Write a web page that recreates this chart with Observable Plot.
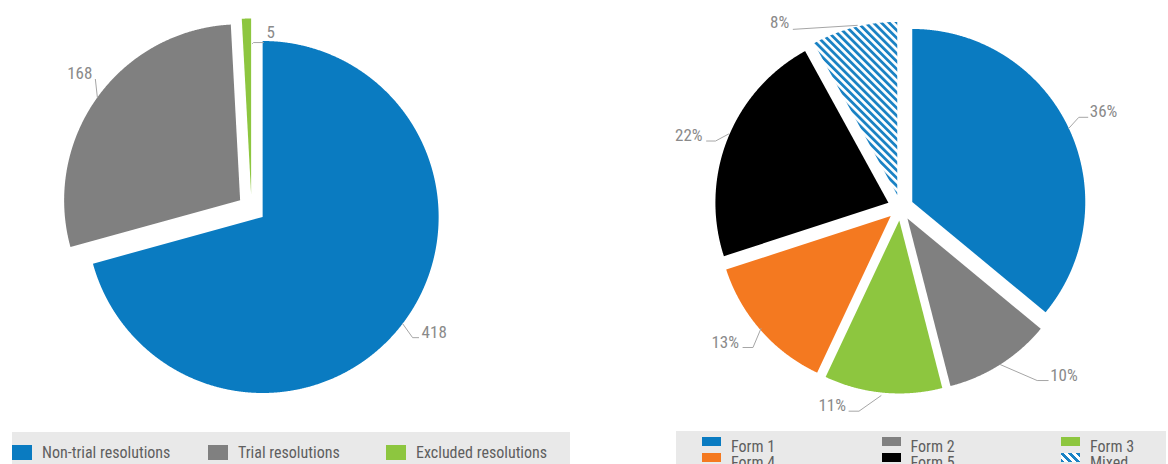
<!DOCTYPE html>
<html><head><meta charset="utf-8">
<script src="https://cdn.jsdelivr.net/npm/d3@7"></script>
<script src="https://cdn.jsdelivr.net/npm/@observablehq/plot@0.6"></script>
<style>
body{margin:0;width:1168px;height:464px;overflow:hidden;background:#fff;position:relative;font-family:"Liberation Sans Narrow","Arial Narrow","Roboto Condensed",sans-serif}
.chart{position:absolute;top:0}
.legend{position:absolute;background:#e9e9e9;overflow:hidden}
.legend .sw{position:absolute}
.legend .tx{position:absolute;font-size:16px;line-height:18px;color:#5f5f5f;white-space:nowrap}
</style></head><body>
<svg width="0" height="0" style="position:absolute"><defs>
<pattern id="hatch" patternUnits="userSpaceOnUse" width="5.5" height="5.5" patternTransform="rotate(-45)">
<rect width="5.5" height="5.5" fill="#ffffff"/><rect width="2.8" height="5.5" fill="#1a82c4"/></pattern>
</defs></svg>
<div id="left" class="chart" style="left:0"></div>
<div id="right" class="chart" style="left:600px"></div>
<div id="legL" class="legend" style="left:12px;top:432px;width:558px;height:32px"></div>
<div id="legR" class="legend" style="left:676px;top:431px;width:490px;height:33px"></div>
<script>
const FONT = '"Liberation Sans Narrow","Arial Narrow","Roboto Condensed",sans-serif';

// ---- data ----
const leftCategories = ["Non-trial resolutions", "Trial resolutions", "Excluded resolutions"];
const leftValues = [418, 168, 5];
const leftLabels = leftValues.map(String);
const leftColors = ["#0a7bc1", "#808080", "#8dc63f"];

const rightCategories = ["Form 1", "Form 2", "Form 3", "Form 4", "Form 5", "Mixed"];
const rightValues = [36, 10, 11, 13, 22, 8];
const rightLabels = rightValues.map(v => v + "%");
const rightColors = ["#0a7bc1", "#808080", "#8dc63f", "#f47920", "#000000", "url(#hatch)"];

// ---- label leader layout (pixel offsets from each slice's outer mid-point) ----
const leftLayout = [
  {pts: [[0, 0], [10, 14], [16, 14]], text: [19, 14], anchor: "start"},
  {pts: [[0, 0], [-2, -18]], text: [-5, -18], anchor: "end"},
  {pts: [[6, 25], [7, 24], [17, 24]], text: [20, 19], anchor: "start"}
];
const rightLayout = [
  {pts: [[0, 0], [10, -11], [19, -11]], text: [21, -11], anchor: "start"},
  {pts: [[0, 0], [37, 16], [48, 16]], text: [50, 16.5], anchor: "start"},
  {pts: [[-2, 3], [-24, 18.5], [-34, 18.5]], text: [-37, 18.5], anchor: "end"},
  {pts: [[0, -2], [-8, 17], [-18, 17]], text: [-22, 17.5], anchor: "end"},
  {pts: [[1, -5], [-12, 2], [-21, 2]], text: [-25, 2], anchor: "end"},
  {pts: [[3, -2], [-61, 2]], text: [-65, 1], anchor: "end"}
];

function buildPie({categories, values, labels, colors, width, height, cx, cy, r, explode, layout}) {
  const arcs = d3.pie().sort(null).value(d => d)(values);
  const k = explode / r;
  const slices = [], leaders = [], texts = [];
  arcs.forEach((a, i) => {
    const key = categories[i];
    const mid = (a.startAngle + a.endAngle) / 2;
    const ox = k * Math.sin(mid), oy = k * Math.cos(mid);
    slices.push({key, x: ox, y: oy});
    const n = Math.max(2, Math.ceil((a.endAngle - a.startAngle) / 0.004));
    for (let j = 0; j <= n; j++) {
      const t = a.startAngle + (a.endAngle - a.startAngle) * j / n;
      slices.push({key, x: ox + Math.sin(t), y: oy + Math.cos(t)});
    }
    slices.push({key, x: ox, y: oy});
    const ax = ox + Math.sin(mid), ay = oy + Math.cos(mid);
    const L = layout[i];
    L.pts.forEach(([dx, dy]) => leaders.push({key, x: ax + dx / r, y: ay - dy / r}));
    texts.push({key, text: labels[i], x: ax + L.text[0] / r, y: ay - L.text[1] / r, anchor: L.anchor});
  });
  const textOpts = {x: "x", y: "y", text: "text", lineAnchor: "bottom", fill: "#8a8a8a", fontSize: 17};
  return Plot.plot({
    width, height, margin: 0,
    x: {domain: [-cx / r, (width - cx) / r], axis: null},
    y: {domain: [-(height - cy) / r, cy / r], axis: null},
    color: {domain: categories, range: colors},
    style: {background: "transparent", fontFamily: FONT, overflow: "visible"},
    marks: [
      Plot.line(slices, {x: "x", y: "y", z: "key", fill: "key", stroke: "none", curve: "linear"}),
      Plot.line(leaders, {x: "x", y: "y", z: "key", stroke: "#a6a6a6", strokeWidth: 1, curve: "linear"}),
      Plot.text(texts.filter(d => d.anchor === "start"), {...textOpts, textAnchor: "start"}),
      Plot.text(texts.filter(d => d.anchor === "end"), {...textOpts, textAnchor: "end"})
    ]
  });
}

document.getElementById("left").append(buildPie({
  categories: leftCategories, values: leftValues, labels: leftLabels, colors: leftColors,
  width: 590, height: 430, cx: 251, cy: 208, r: 176, explode: 14, layout: leftLayout
}));
document.getElementById("right").append(buildPie({
  categories: rightCategories, values: rightValues, labels: rightLabels, colors: rightColors,
  width: 568, height: 430, cx: 300, cy: 207, r: 173, explode: 13, layout: rightLayout
}));

// ---- legends ----
function swatchBg(c) {
  return c.startsWith("url(")
    ? "repeating-linear-gradient(45deg,#1a82c4 0 2.8px,#ffffff 2.8px 5.5px)"
    : c;
}
const legL = document.getElementById("legL");
const leftCols = [0, 196, 374];
leftCategories.forEach((c, i) => {
  const sw = document.createElement("div");
  sw.className = "sw";
  sw.style.cssText = `left:${leftCols[i]}px;top:13px;width:20px;height:15px;background:${swatchBg(leftColors[i])}`;
  const tx = document.createElement("div");
  tx.className = "tx";
  tx.style.cssText = `left:${leftCols[i] + 30}px;top:12px`;
  tx.textContent = c;
  legL.append(sw, tx);
});
const legR = document.getElementById("legR");
rightCategories.forEach((c, i) => {
  const col = i % 3, row = Math.floor(i / 3);
  const x = 26 + col * 179.5, y = 6 + row * 15.7;
  const sw = document.createElement("div");
  sw.className = "sw";
  sw.style.cssText = `left:${x}px;top:${y}px;width:19px;height:9px;background:${swatchBg(rightColors[i])}`;
  const tx = document.createElement("div");
  tx.className = "tx";
  tx.style.cssText = `left:${x + 29}px;top:${y + 1}px`;
  tx.textContent = c;
  legR.append(sw, tx);
});
</script>
</body></html>
